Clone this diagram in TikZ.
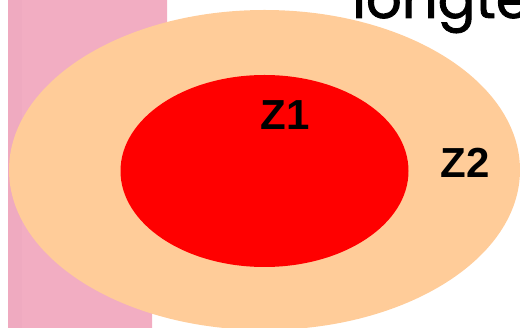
\documentclass[tikz,border=0pt]{standalone}
\usepackage{fontspec}
\setmainfont{Liberation Sans}
\newfontfamily\popfont[FakeBold=1.5]{Poppins}
\definecolor{pinkbar}{RGB}{242,173,194}
\definecolor{pinkbard}{RGB}{239,170,192}
\definecolor{peach}{RGB}{255,204,153}
\definecolor{zred}{RGB}{255,0,0}
\tikzset{
  zlabel/.style={font=\fontsize{42}{42}\selectfont\bfseries, text=black, inner sep=0pt},
  toptext/.style={font=\popfont\fontsize{56}{56}\selectfont, text=black, inner sep=0pt, anchor=base west}
}
\begin{document}
\begin{tikzpicture}[x=1pt,y=-1pt]
\useasboundingbox (0,0) rectangle (520,328);
\begin{scope}
\clip (0,0) rectangle (520,328);
% pink bar
\fill[pinkbar] (8,-1) -- (167,-1) -- (167,300) -- (152,312) -- (152,329) -- (8,329) -- cycle;
\fill[pinkbard] (8,-1) rectangle (22,329);
% top text
\node[toptext] (top) at (352,18) {longte};
% ellipses
\fill[peach] (264.5,170) ellipse [x radius=255.5, y radius=160];
\fill[zred] (264.5,171) ellipse [x radius=144, y radius=96];
\node[zlabel] (z1) at (285,115) {Z1};
\node[zlabel] (z2) at (465,163) {Z2};
\end{scope}
\end{tikzpicture}
\end{document}
